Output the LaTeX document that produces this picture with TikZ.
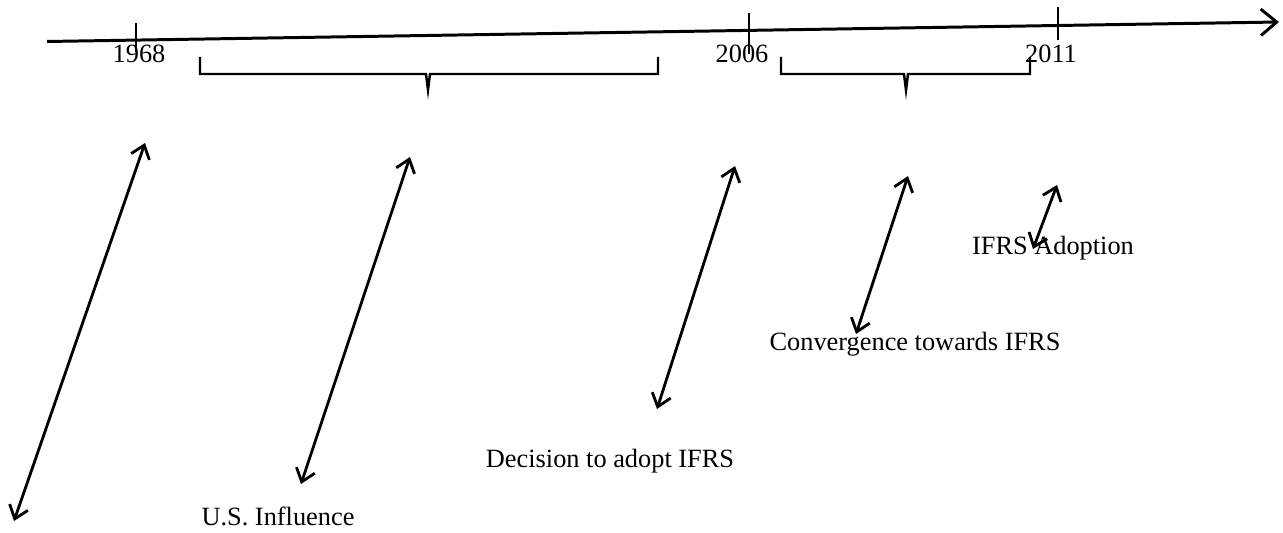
\documentclass[tikz,border=0pt]{standalone}
\usepackage{fontspec}
\setmainfont{Liberation Serif}
\usetikzlibrary{arrows.meta}

\begin{document}
\begin{tikzpicture}[x=0.02cm, y=-0.02cm]

	% Styles
	\tikzstyle{axisline}=[-{Straight Barb[length=9pt, width=15pt]}, line width=1.7pt]
	\tikzstyle{tickline}=[line width=1.4pt]
	\tikzstyle{bracket}=[line width=1.4pt, line join=miter]
	\tikzstyle{spanarrow}=[{Straight Barb[length=7pt, width=11pt]}-{Straight Barb[length=7pt, width=11pt]}, line width=1.6pt]
	\tikzstyle{yeartext}=[inner sep=0pt, anchor=base, font=\fontsize{15}{18}\selectfont]
	\tikzstyle{phasetext}=[inner sep=0pt, anchor=base, font=\fontsize{15}{18}\selectfont]

	\useasboundingbox (0,0) rectangle (1283,533);

	%== Time axis ============================================================
	\coordinate (axisstart) at (47,41.5);
	\coordinate (axisend) at (1279,22);
	\draw[axisline] (axisstart) -- (axisend);

	% Ticks and years
	\draw[tickline] (136,23) -- (136,52);
	\node[yeartext] (y1968) at (139,63) {1968};
	\draw[tickline] (749,13) -- (749,54);
	\node[yeartext] (y2006) at (742,63) {2006};
	\draw[tickline] (1058,7) -- (1058,40);
	\node[yeartext] (y2011) at (1051,63) {2011};

	% Periods
	\draw[bracket] (200,57) -- (200,74) -- (426,74) -- (428,90) -- (430,74) -- (658,74) -- (658,57);
	\draw[bracket] (781,57) -- (781,74) -- (904,74) -- (906,90) -- (908,74) -- (1030,74) -- (1030,57);

	%== Phases ===============================================================
	\node[phasetext] (usinf) at (278,525) {U.S. Influence};
	\node[phasetext] (decision) at (610,467) {Decision to adopt IFRS};
	\node[phasetext] (converge) at (915,350) {Convergence towards IFRS};
	\node[phasetext] (adoption) at (1053,255) {IFRS Adoption};

	% Arrows
	\coordinate (a1top) at (145,143);  \coordinate (a1bot) at (14,521);
	\coordinate (a2top) at (410,157);  \coordinate (a2bot) at (301,484);
	\coordinate (a3top) at (735,166);  \coordinate (a3bot) at (657,409);
	\coordinate (a4top) at (908,176);  \coordinate (a4bot) at (856,334);
	\coordinate (a5top) at (1057,185); \coordinate (a5bot) at (1033,249);

	\draw[spanarrow] (a1top) -- (a1bot);
	\draw[spanarrow] (a2top) -- (a2bot);
	\draw[spanarrow] (a3top) -- (a3bot);
	\draw[spanarrow] (a4top) -- (a4bot);
	\draw[spanarrow] (a5top) -- (a5bot);

\end{tikzpicture}
\end{document}
